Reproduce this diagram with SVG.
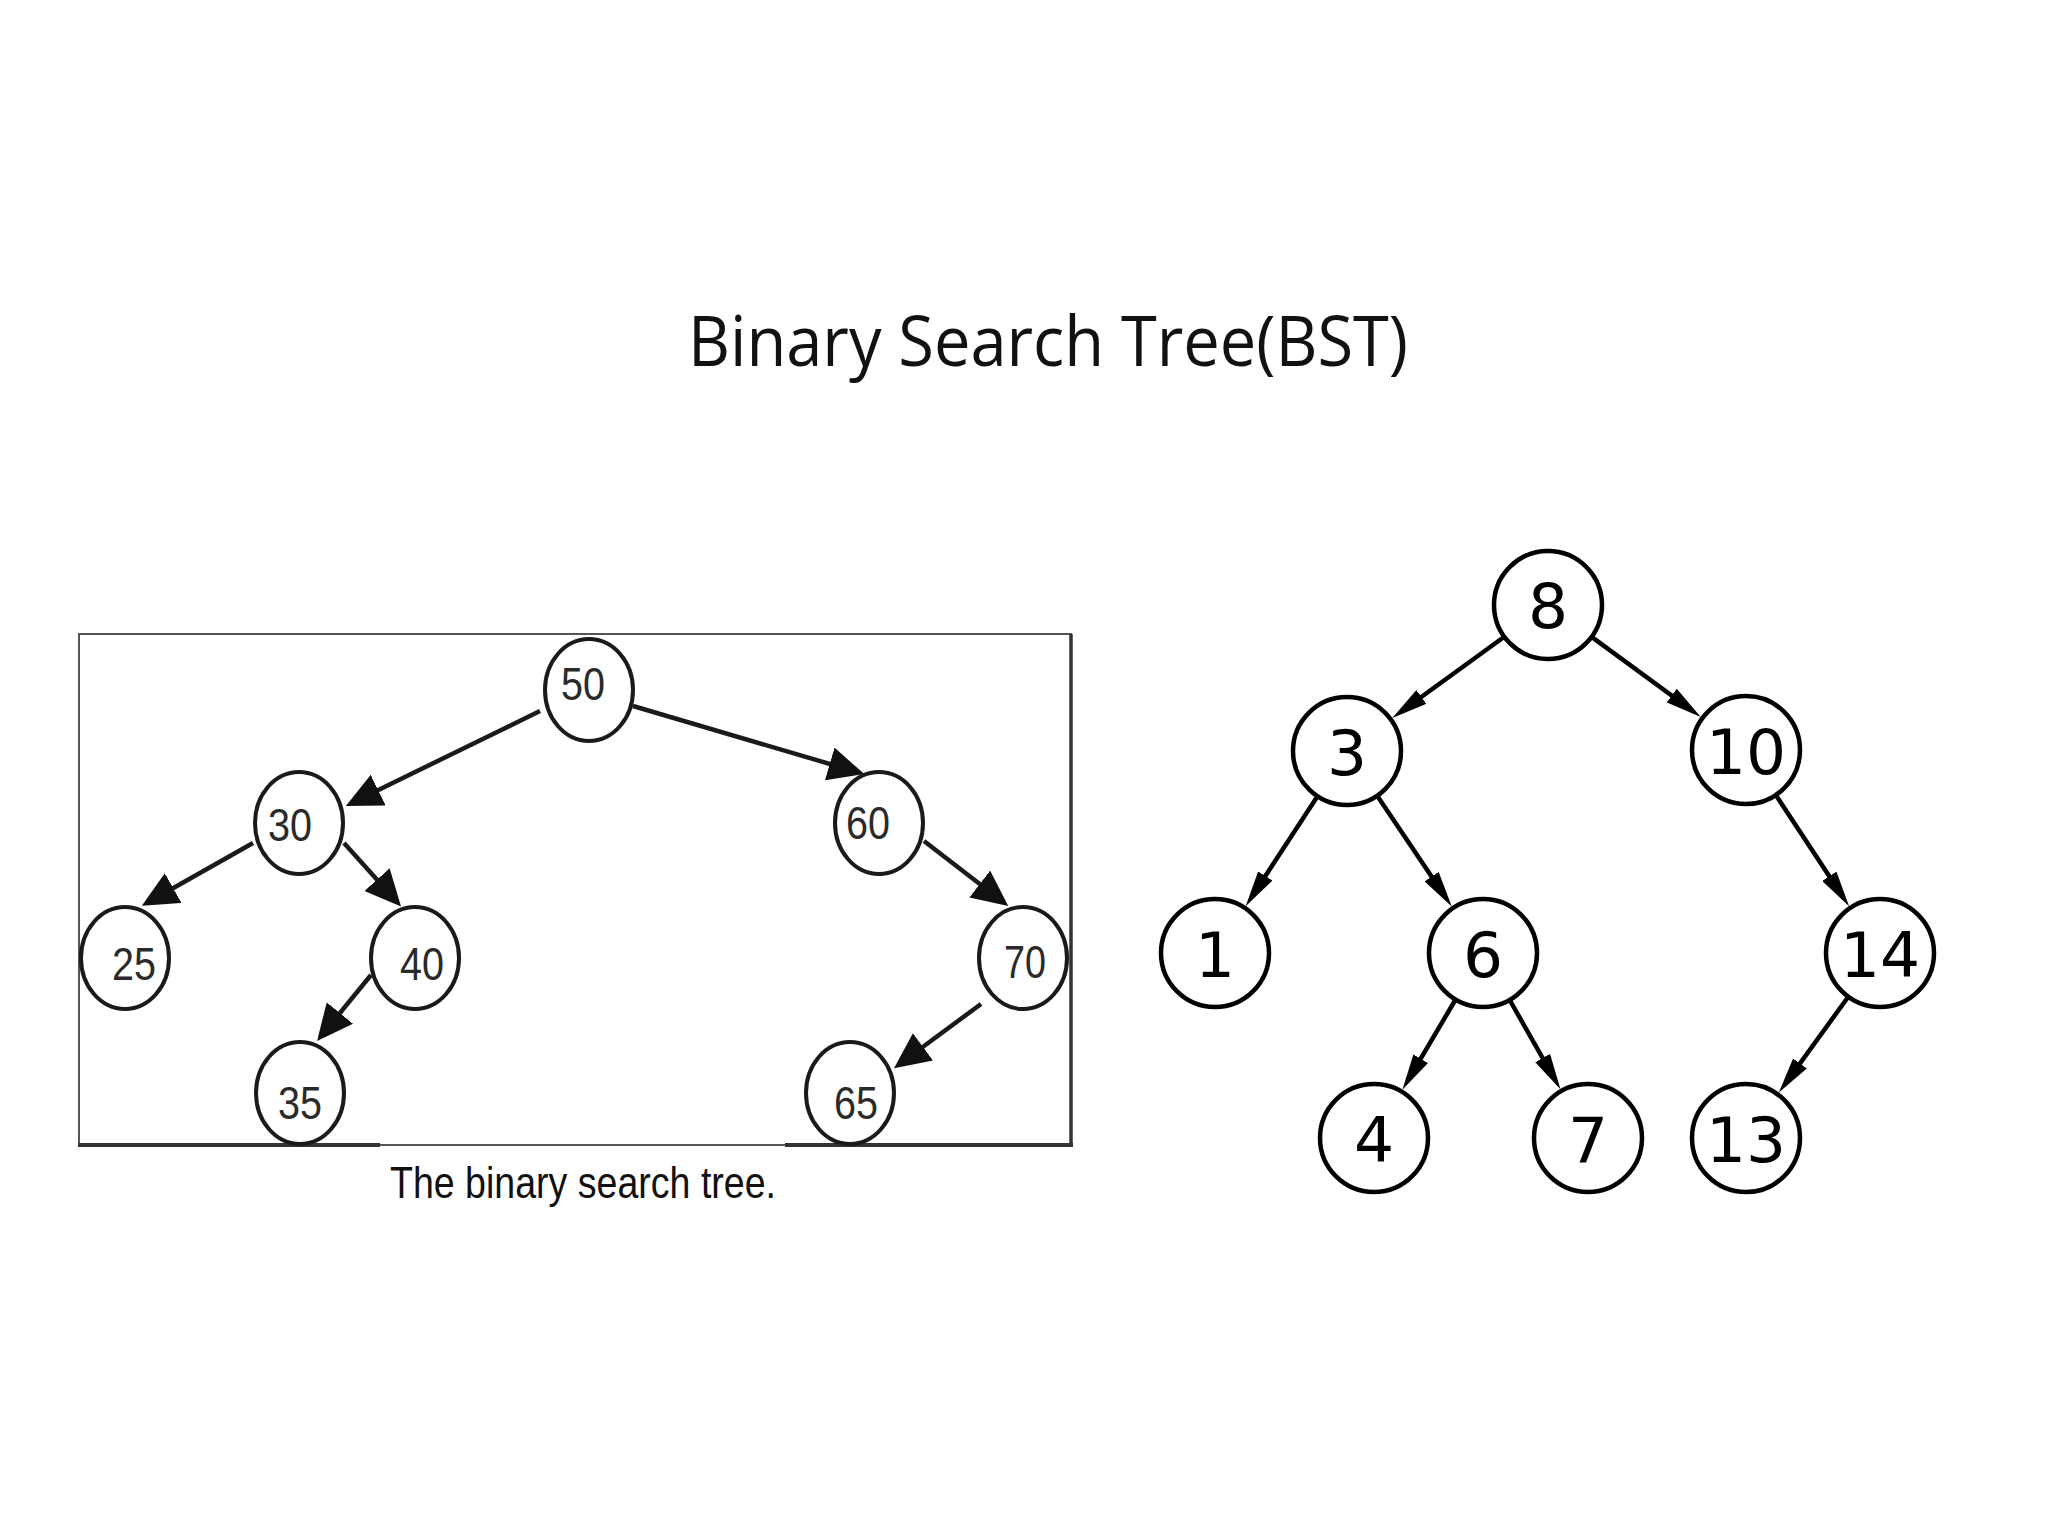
<svg xmlns="http://www.w3.org/2000/svg" width="2048" height="1536" viewBox="0 0 2048 1536">
<style>
.bg{fill:#ffffff}
.title{font-family:"Open Sans","Noto Sans","Liberation Sans",sans-serif;font-size:70px;fill:#111}
.lnode{fill:#fff;stroke:#1a1a1a;stroke-width:4}
.ltxt{font-family:"Liberation Sans",Arial,sans-serif;font-size:46px;fill:#2a2a2a;text-anchor:middle}
.ledge{stroke:#1a1a1a;stroke-width:4.5;fill:none;marker-end:url(#lhead)}
.rnode{fill:#fff;stroke:#000;stroke-width:4.5}
.rtxt{font-family:"DejaVu Sans",sans-serif;font-size:63px;fill:#000;text-anchor:middle}
.redge{stroke:#000;stroke-width:4.5;fill:none;marker-end:url(#rhead)}
.caption{font-family:"Liberation Sans",Arial,sans-serif;font-size:45px;fill:#111;text-anchor:middle}
</style>
<defs>
<marker id="lhead" markerUnits="userSpaceOnUse" viewBox="0 0 36 34" markerWidth="36" markerHeight="34" refX="18" refY="17" orient="auto">
<path d="M0,0 L36,17 L0,34 z" fill="#111"/>
</marker>
<marker id="rhead" markerUnits="userSpaceOnUse" viewBox="0 0 36 17" markerWidth="36" markerHeight="17" refX="24" refY="8.5" orient="auto">
<path d="M0,0 L36,8.5 L0,17 z" fill="#000"/>
</marker>
</defs>
<rect class="bg" x="0" y="0" width="2048" height="1536"/>
<text class="title" x="688" y="366" textLength="720" lengthAdjust="spacingAndGlyphs">Binary Search Tree(BST)</text>

<g id="left-frame">
<rect x="79" y="634" width="992" height="511" fill="none" stroke="#555" stroke-width="2"/>
<line x1="1071" y1="634" x2="1071" y2="1147" stroke="#333" stroke-width="3.5"/>
<line x1="78" y1="1145" x2="380" y2="1145" stroke="#333" stroke-width="4"/>
<line x1="785" y1="1145" x2="1073" y2="1145" stroke="#333" stroke-width="4"/>
</g>

<g id="connectors">
<line class="ledge" x1="540" y1="711" x2="362" y2="798"/>
<line class="ledge" x1="633" y1="706" x2="847" y2="769"/>
<line class="ledge" x1="253" y1="843" x2="157.5" y2="897"/>
<line class="ledge" x1="344" y1="843" x2="389" y2="893"/>
<line class="ledge" x1="371" y1="975" x2="328.5" y2="1027"/>
<line class="ledge" x1="924" y1="841" x2="994" y2="895"/>
<line class="ledge" x1="981" y1="1004" x2="908.5" y2="1057.5"/>

<line class="redge" x1="1504.3" y1="636.7" x2="1402" y2="711"/>
<line class="redge" x1="1591.6" y1="636.9" x2="1691.1" y2="709.8"/>
<line class="redge" x1="1317.5" y1="796.2" x2="1252.2" y2="896.1"/>
<line class="redge" x1="1377.2" y1="795.8" x2="1445" y2="896.5"/>
<line class="redge" x1="1775.8" y1="795.1" x2="1842.5" y2="896.3"/>
<line class="redge" x1="1455.6" y1="999.5" x2="1408.5" y2="1079.4"/>
<line class="redge" x1="1509.7" y1="1000" x2="1554.5" y2="1078.9"/>
<line class="redge" x1="1848.3" y1="996.7" x2="1785.9" y2="1082.9"/>
</g>

<g id="n50"><ellipse class="lnode" cx="589" cy="690" rx="44" ry="51"/><text class="ltxt" x="583" y="700" textLength="44" lengthAdjust="spacingAndGlyphs">50</text></g>
<g id="n30"><ellipse class="lnode" cx="299" cy="823" rx="44" ry="51"/><text class="ltxt" x="290" y="841" textLength="44" lengthAdjust="spacingAndGlyphs">30</text></g>
<g id="n60"><ellipse class="lnode" cx="879" cy="823" rx="44" ry="51"/><text class="ltxt" x="868" y="839" textLength="44" lengthAdjust="spacingAndGlyphs">60</text></g>
<g id="n25"><ellipse class="lnode" cx="125" cy="958" rx="44" ry="51"/><text class="ltxt" x="134" y="980" textLength="44" lengthAdjust="spacingAndGlyphs">25</text></g>
<g id="n40"><ellipse class="lnode" cx="415" cy="958" rx="44" ry="51"/><text class="ltxt" x="422" y="980" textLength="44" lengthAdjust="spacingAndGlyphs">40</text></g>
<g id="n70"><ellipse class="lnode" cx="1023" cy="958" rx="44" ry="51"/><text class="ltxt" x="1025" y="978" textLength="42" lengthAdjust="spacingAndGlyphs">70</text></g>
<g id="n35"><ellipse class="lnode" cx="300" cy="1093" rx="44" ry="51"/><text class="ltxt" x="300" y="1119" textLength="44" lengthAdjust="spacingAndGlyphs">35</text></g>
<g id="n65"><ellipse class="lnode" cx="850" cy="1093" rx="44" ry="51"/><text class="ltxt" x="856" y="1119" textLength="44" lengthAdjust="spacingAndGlyphs">65</text></g>

<text class="caption" x="583" y="1198" textLength="386" lengthAdjust="spacingAndGlyphs">The binary search tree.</text>

<g id="r8"><circle class="rnode" cx="1548" cy="605" r="54"/><text class="rtxt" x="1548" y="628">8</text></g>
<g id="r3"><circle class="rnode" cx="1347" cy="751" r="54"/><text class="rtxt" x="1347" y="775">3</text></g>
<g id="r10"><circle class="rnode" cx="1746" cy="750" r="54"/><text class="rtxt" x="1746" y="774">10</text></g>
<g id="r1"><circle class="rnode" cx="1215" cy="953" r="54"/><text class="rtxt" x="1215" y="977">1</text></g>
<g id="r6"><circle class="rnode" cx="1483" cy="953" r="54"/><text class="rtxt" x="1483" y="977">6</text></g>
<g id="r14"><circle class="rnode" cx="1880" cy="953" r="54"/><text class="rtxt" x="1880" y="977">14</text></g>
<g id="r4"><circle class="rnode" cx="1374" cy="1138" r="54"/><text class="rtxt" x="1374" y="1162">4</text></g>
<g id="r7"><circle class="rnode" cx="1588" cy="1138" r="54"/><text class="rtxt" x="1588" y="1162">7</text></g>
<g id="r13"><circle class="rnode" cx="1746" cy="1138" r="54"/><text class="rtxt" x="1746" y="1162">13</text></g>
</svg>
